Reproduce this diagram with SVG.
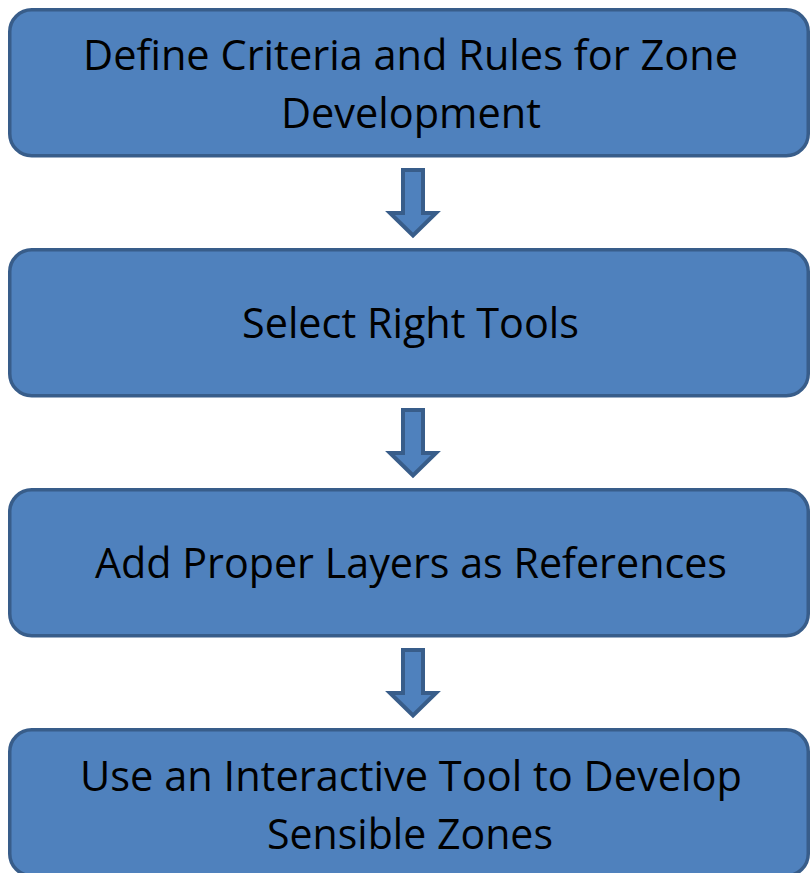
<svg xmlns="http://www.w3.org/2000/svg" width="811" height="873" viewBox="0 0 811 873">
<style>
.box{fill:#4F81BD;stroke:#385D8A;stroke-width:3.5}
.arr{fill:#4F81BD;stroke:#385D8A;stroke-width:4;stroke-linejoin:miter}
.t{font-family:"Open Sans","Noto Sans","Liberation Sans",sans-serif;font-size:42px;fill:#000;text-anchor:middle}
</style>
<rect width="811" height="873" fill="#fff"/>
<g id="connectors">
<path class="arr" d="M403,170 H423 V213 H436 L413,235.5 L390,213 H403 Z"/>
<path class="arr" d="M403,410 H423 V453 H436 L413,475.5 L390,453 H403 Z"/>
<path class="arr" d="M403,650 H423 V693 H436 L413,715.5 L390,693 H403 Z"/>
</g>
<g id="node1">
<rect class="box" x="9.75" y="9.75" width="798.5" height="146" rx="22"/>
<text class="t" x="410.5" y="70" textLength="655" lengthAdjust="spacingAndGlyphs">Define Criteria and Rules for Zone</text>
<text class="t" x="411" y="128" textLength="260" lengthAdjust="spacingAndGlyphs">Development</text>
</g>
<g id="node2">
<rect class="box" x="9.75" y="249.75" width="798.5" height="146" rx="22"/>
<text class="t" x="410.5" y="338" textLength="337" lengthAdjust="spacingAndGlyphs">Select Right Tools</text>
</g>
<g id="node3">
<rect class="box" x="9.75" y="489.75" width="798.5" height="146" rx="22"/>
<text class="t" x="411" y="578" textLength="632" lengthAdjust="spacingAndGlyphs">Add Proper Layers as References</text>
</g>
<g id="node4">
<rect class="box" x="9.75" y="729.75" width="798.5" height="146" rx="22"/>
<text class="t" x="411" y="791" textLength="662" lengthAdjust="spacingAndGlyphs">Use an Interactive Tool to Develop</text>
<text class="t" x="410" y="849" textLength="286" lengthAdjust="spacingAndGlyphs">Sensible Zones</text>
</g>
</svg>
